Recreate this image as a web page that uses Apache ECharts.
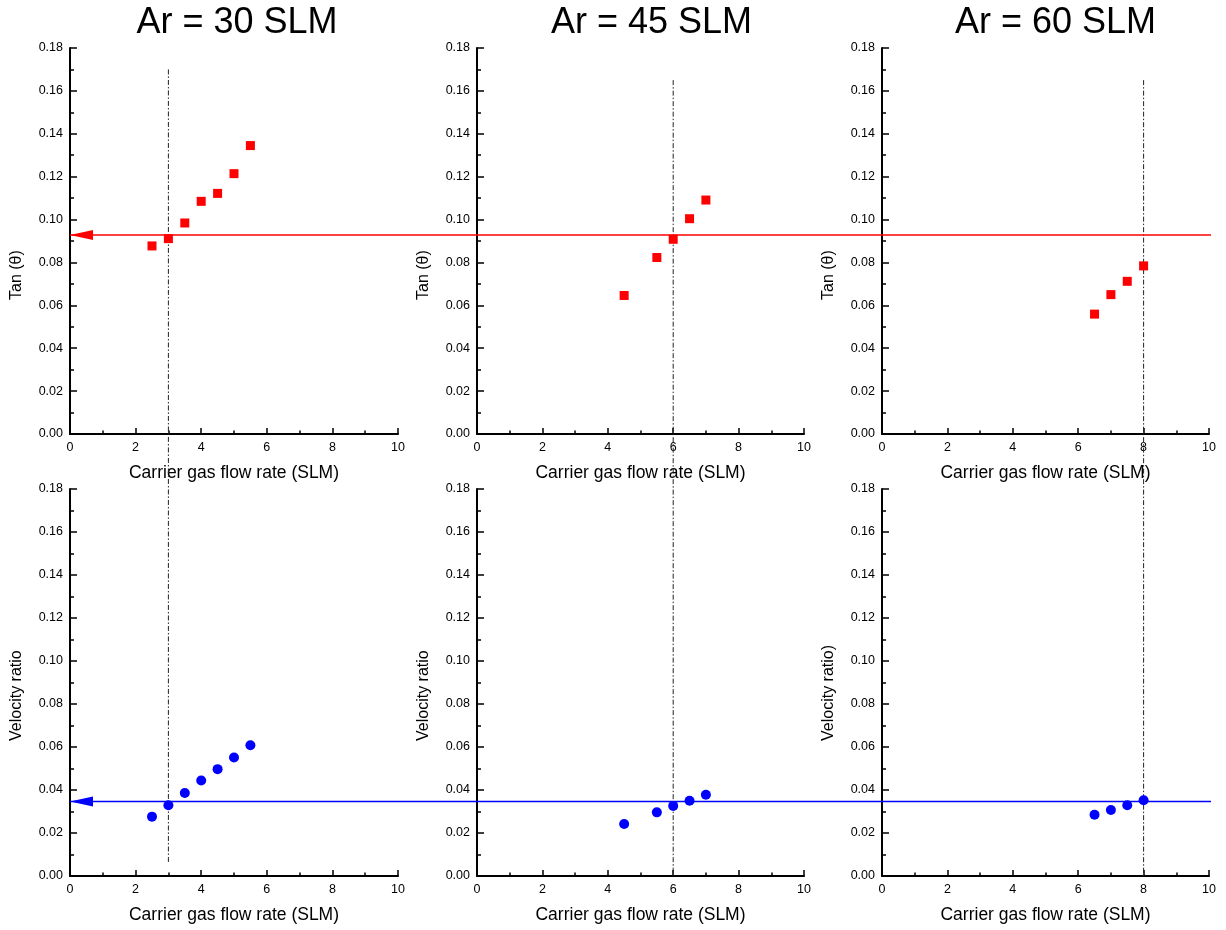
<!DOCTYPE html>
<html>
<head>
<meta charset="utf-8">
<title>Tan(θ) and velocity ratio vs carrier gas flow rate</title>
<script src="https://cdn.jsdelivr.net/npm/echarts@6/dist/echarts.min.js"></script>
<style>
  html, body { margin: 0; padding: 0; background: #fff; }
  #chart { width: 1226px; height: 930px; }
</style>
</head>
<body>
<div id="chart"></div>
<script>
// Measured points: carrier gas flow rate (SLM) for each argon flow
const flowAr30 = [2.5, 3, 3.5, 4, 4.5, 5, 5.5];
const tanAr30  = [0.0877, 0.0911, 0.0984, 0.1085, 0.1122, 0.1214, 0.1345];
const velAr30  = [0.0276, 0.0329, 0.0386, 0.0444, 0.0497, 0.0551, 0.0608];

const flowAr45 = [4.5, 5.5, 6, 6.5, 7];
const tanAr45  = [0.0646, 0.0823, 0.0908, 0.1004, 0.1091];
const velAr45  = [0.0242, 0.0296, 0.0326, 0.0350, 0.0378];

const flowAr60 = [6.5, 7, 7.5, 8];
const tanAr60  = [0.0559, 0.0650, 0.0712, 0.0784];
const velAr60  = [0.0285, 0.0307, 0.0329, 0.0352];

const panelTitles = ['Ar = 30 SLM', 'Ar = 45 SLM', 'Ar = 60 SLM'];
const topAxisTitles = ['Tan (θ)', 'Tan (θ)', 'Tan (θ)'];
const bottomAxisTitles = ['Velocity ratio', 'Velocity ratio', 'Velocity ratio)'];
const xAxisTitle = 'Carrier gas flow rate (SLM)';

// Target levels shared by the three argon flows
const tanTarget = 0.0928;
const velTarget = 0.0346;

// Selected carrier flow for each argon flow, with the vertical extent of its guide
const optimumFlow = [3, 6, 8];
const guideTopTan = [0.170, 0.165, 0.165];
const guideBottomVel = [0.006, 0, 0];

// Axis ranges
const xMin = 0, xMax = 10, xStep = 2;
const yMin = 0, yMax = 0.18, yStep = 0.02;

const FONT = 'Arial, "Liberation Sans", Helvetica, sans-serif';
const columnLeft = [70, 477, 882];
const columnWidth = [328, 327, 327];
const rowTop = [48, 489];
const rowHeight = [386, 387];

const chart = echarts.init(document.getElementById('chart'), null, { renderer: 'canvas' });

const grids = [], xAxes = [], yAxes = [];
for (let r = 0; r < 2; r++) {
  for (let c = 0; c < 3; c++) {
    const gi = r * 3 + c;
    grids.push({
      left: columnLeft[c], top: rowTop[r], width: columnWidth[c], height: rowHeight[r],
      containLabel: false, outerBoundsMode: 'none', show: false
    });
    xAxes.push({
      type: 'value', gridIndex: gi, min: xMin, max: xMax, interval: xStep,
      name: xAxisTitle, nameLocation: 'middle', nameGap: 30,
      nameTextStyle: { fontFamily: FONT, fontSize: 17.5, color: '#000' },
      axisLine: { show: true, onZero: false, lineStyle: { color: '#000', width: 2 } },
      axisTick: { show: true, inside: true, length: 6, lineStyle: { color: '#000', width: 1.5 } },
      minorTick: { show: true, splitNumber: 2, length: 3.5, lineStyle: { color: '#000', width: 1.5 } },
      axisLabel: { fontFamily: FONT, fontSize: 12.5, color: '#000', margin: 7 },
      splitLine: { show: false }, minorSplitLine: { show: false }
    });
    yAxes.push({
      type: 'value', gridIndex: gi, min: yMin, max: yMax, interval: yStep,
      axisLine: { show: true, onZero: false, lineStyle: { color: '#000', width: 2 } },
      axisTick: { show: true, inside: true, length: 7, lineStyle: { color: '#000', width: 1.5 } },
      minorTick: { show: true, splitNumber: 2, length: 4, lineStyle: { color: '#000', width: 1.5 } },
      axisLabel: {
        fontFamily: FONT, fontSize: 12.5, color: '#000', margin: 7,
        formatter: v => v.toFixed(2)
      },
      splitLine: { show: false }, minorSplitLine: { show: false }
    });
  }
}

const zip = (xs, ys) => xs.map((x, i) => [x, ys[i]]);
const tanSets = [zip(flowAr30, tanAr30), zip(flowAr45, tanAr45), zip(flowAr60, tanAr60)];
const velSets = [zip(flowAr30, velAr30), zip(flowAr45, velAr45), zip(flowAr60, velAr60)];

const series = [];
tanSets.forEach((d, c) => series.push({
  type: 'scatter', name: 'Tan ' + panelTitles[c], xAxisIndex: c, yAxisIndex: c,
  data: d, symbol: 'rect', symbolSize: 9, z: 5,
  itemStyle: { color: '#ff0000', opacity: 1 }, silent: true
}));
velSets.forEach((d, c) => series.push({
  type: 'scatter', name: 'Velocity ' + panelTitles[c], xAxisIndex: c + 3, yAxisIndex: c + 3,
  data: d, symbol: 'circle', symbolSize: 10, z: 5,
  itemStyle: { color: '#0000ff', opacity: 1 }, silent: true
}));

const titleGraphics = panelTitles.map((t, c) => ({
  type: 'text',
  x: columnLeft[c] + columnWidth[c] / 2 + [3, 11, 10][c], y: 23,
  style: {
    text: t, font: '36px ' + FONT, fill: '#000',
    align: 'center', verticalAlign: 'middle',
    textAlign: 'center', textVerticalAlign: 'middle'
  }
}));

const yTitleGraphic = (text, c, startY) => ({
  type: 'text',
  x: columnLeft[c] - 53, y: startY, rotation: Math.PI / 2,
  style: {
    text: text, font: '16px ' + FONT, fill: '#000',
    align: 'left', verticalAlign: 'middle',
    textAlign: 'left', textVerticalAlign: 'middle'
  }
});
const yTitles = [];
for (let c = 0; c < 3; c++) {
  yTitles.push(yTitleGraphic(topAxisTitles[c], c, 300));
  yTitles.push(yTitleGraphic(bottomAxisTitles[c], c, 741));
}

chart.setOption({
  animation: false,
  backgroundColor: '#fff',
  grid: grids,
  xAxis: xAxes,
  yAxis: yAxes,
  series: series,
  graphic: titleGraphics.concat(yTitles)
});

// Guide lines that run across panels, placed through the panels' own scales
const px = (gi, x, y) => chart.convertToPixel({ gridIndex: gi }, [x, y]);

function levelLine(rowOffset, value, color) {
  const a = px(rowOffset + 0, xMin, value);
  const b = px(rowOffset + 2, xMax, value);
  return [
    {
      type: 'line', z: 3, silent: true,
      shape: { x1: a[0], y1: a[1], x2: b[0] + 2, y2: b[1] },
      style: { stroke: color, lineWidth: 1.5 }
    },
    {
      type: 'polygon', z: 3, silent: true,
      shape: { points: [[a[0], a[1]], [a[0] + 23, a[1] - 5], [a[0] + 23, a[1] + 5]] },
      style: { fill: color }
    }
  ];
}

let guides = [];
guides = guides.concat(levelLine(0, tanTarget, '#ff0000'));
guides = guides.concat(levelLine(3, velTarget, '#0000ff'));
optimumFlow.forEach((f, c) => {
  const top = px(c, f, guideTopTan[c]);
  const bottom = px(c + 3, f, guideBottomVel[c]);
  guides.push({
    type: 'line', z: 2, silent: true,
    shape: { x1: top[0], y1: top[1], x2: bottom[0], y2: bottom[1] },
    style: { stroke: '#222', lineWidth: 1, lineDash: [5, 2, 1.5, 2] }
  });
});

chart.setOption({ graphic: titleGraphics.concat(yTitles).concat(guides) });
</script>
</body>
</html>
